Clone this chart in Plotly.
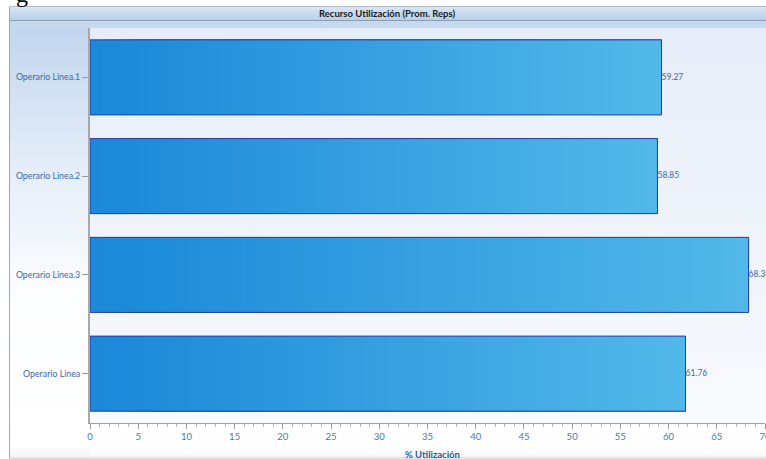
import base64
import plotly.graph_objects as go

# ---------------- data ----------------
categories = ["Operario Linea.1", "Operario Linea.2", "Operario Linea.3", "Operario Linea"]
values = [59.27, 58.85, 68.3, 61.76]
value_labels = ["59.27", "58.85", "68.3", "61.76"]
x_ticks = list(range(0, 75, 5))
title_text = "Recurso Utilización (Prom. Reps)"
x_title = "% Utilización"

# ---------------- layout geometry ----------------
W, H = 766, 459
L, R, T, B = 90, 1, 28, 36
PW, PH = W - L - R, H - T - B
FONT = "Lato, Noto Sans, sans-serif"


def px_x(p):
    return (p - L) / PW


def px_y(p):
    return (H - B - p) / PH


def grad_uri(stops, vertical=True):
    x2, y2 = ("0", "1") if vertical else ("1", "0")
    st = "".join(f'<stop offset="{o}" stop-color="{c}"/>' for o, c in stops)
    svg = (f'<svg xmlns="http://www.w3.org/2000/svg" width="100" height="100" viewBox="0 0 1 1" '
           f'preserveAspectRatio="none"><defs><linearGradient id="g" x1="0" y1="0" x2="{x2}" y2="{y2}">'
           f'{st}</linearGradient></defs><rect x="0" y="0" width="1" height="1" fill="url(#g)"/></svg>')
    return "data:image/svg+xml;base64," + base64.b64encode(svg.encode()).decode()


def img(uri, x0, y0, x1, y1):
    return dict(source=uri, xref="paper", yref="paper", x=px_x(x0), y=px_y(y0),
                sizex=(x1 - x0) / PW, sizey=(y1 - y0) / PH, xanchor="left", yanchor="top",
                sizing="stretch", layer="below")


def lerp(c0, c1, t):
    return "#%02x%02x%02x" % tuple(round(a + (b - a) * t) for a, b in zip(c0, c1))


C0, C1 = (0x1a, 0x87, 0xd8), (0x52, 0xb9, 0xe9)
N = 48

seg_y, seg_base, seg_x, seg_col = [], [], [], []
for i in range(N):
    for c, v in zip(categories, values):
        seg_y.append(c)
        seg_base.append(v * i / N)
        seg_x.append(v - v * i / N)
        seg_col.append(lerp(C0, C1, (i + 0.5) / N))

fig = go.Figure()
fig.add_trace(go.Bar(y=seg_y, x=seg_x, base=seg_base, orientation="h", width=0.76,
                     marker=dict(color=seg_col, line=dict(width=0)), hoverinfo="skip",
                     showlegend=False))
fig.add_trace(go.Bar(y=categories, x=values, orientation="h", width=0.76,
                     marker=dict(color="rgba(0,0,0,0)", line=dict(color="#2b3aa6", width=1)),
                     showlegend=False))
fig.add_trace(go.Scatter(y=categories, x=values, mode="text", text=value_labels,
                         textposition="middle right", marker=dict(size=0),
                         textfont=dict(color="#3a68a8", size=8.5, family=FONT),
                         cliponaxis=False, showlegend=False))

images = [
    img(grad_uri([(0, "#d8e7f6"), (1, "#b7cfe9")]), 10, 7, W, 20),
    img(grad_uri([(0, "#c6d9ef"), (1, "#c6d9ef")]), 10, 21, W, 28),
    img(grad_uri([(0, "#c2d6ee"), (0.3, "#e2ecf8"), (0.6, "#fbfcfe"), (0.97, "#ffffff"), (1, "#f3f3f3")]), 10, 28, L, 458),
    img(grad_uri([(0, "#ffffff"), (0.85, "#fdfdfd"), (1, "#f3f3f3")]), L, 423, W, 458),
    img(grad_uri([(0, "#e6edf8"), (1, "#f8fafd")]), L, 28, W, 423),
]

shapes = [
    dict(type="line", xref="paper", yref="paper", x0=px_x(9.5), x1=px_x(9.5), y0=px_y(7), y1=px_y(458),
         line=dict(color="#a0a4ac", width=1), layer="below"),
    dict(type="line", xref="paper", yref="paper", x0=px_x(9.5), x1=px_x(W), y0=px_y(6.5), y1=px_y(6.5),
         line=dict(color="#b4bac4", width=1), layer="below"),
    dict(type="line", xref="paper", yref="paper", x0=px_x(10), x1=px_x(W), y0=px_y(20.5), y1=px_y(20.5),
         line=dict(color="#8e9cb2", width=1), layer="below"),
    dict(type="line", xref="paper", yref="paper", x0=px_x(9.5), x1=px_x(W), y0=px_y(458), y1=px_y(458),
         line=dict(color="#cccccc", width=1), layer="below"),
]

annotations = [
    dict(text=f"<b>{title_text}</b>", xref="paper", yref="paper", x=px_x(387), y=px_y(13.5),
         xanchor="center", yanchor="middle", showarrow=False,
         font=dict(size=9.5, color="#1a1a1a", family=FONT)),
    dict(text=f"<b>{x_title}</b>", xref="paper", yref="paper", x=px_x(432), y=px_y(454),
         xanchor="center", yanchor="middle", showarrow=False,
         font=dict(size=9.5, color="#2a5a98", family=FONT)),
    dict(text="g", xref="paper", yref="paper", x=px_x(14), y=px_y(9), xanchor="left", yanchor="bottom",
         showarrow=False, font=dict(size=24, color="#000000", family="Liberation Serif")),
]

fig.update_layout(
    width=W, height=H, margin=dict(l=L, r=R, t=T, b=B, pad=0, autoexpand=False),
    paper_bgcolor="#ffffff", plot_bgcolor="rgba(0,0,0,0)",
    barmode="overlay", showlegend=False,
    images=images, shapes=shapes, annotations=annotations,
    font=dict(family=FONT),
    xaxis=dict(range=[0, 70], tickvals=x_ticks, ticks="outside", ticklen=5, tickcolor="#9a9a9a",
               minor=dict(dtick=1, ticks="outside", ticklen=3, tickcolor="#b4b4b4"),
               showgrid=False, zeroline=False, showline=True, linecolor="#a0a0a0", linewidth=1,
               ticklabeloverflow="allow", automargin=False,
               tickfont=dict(size=9.5, color="#4a78b0", family=FONT)),
    yaxis=dict(categoryorder="array", categoryarray=categories, range=[3.5, -0.5],
               ticks="outside", ticklen=6, tickcolor="#9a9a9a", showgrid=False, zeroline=False,
               showline=True, linecolor="#a8a8a8", linewidth=2, automargin=False,
               tickfont=dict(size=8.8, color="#3a68a8", family=FONT)),
)

fig.write_html("out.html")
